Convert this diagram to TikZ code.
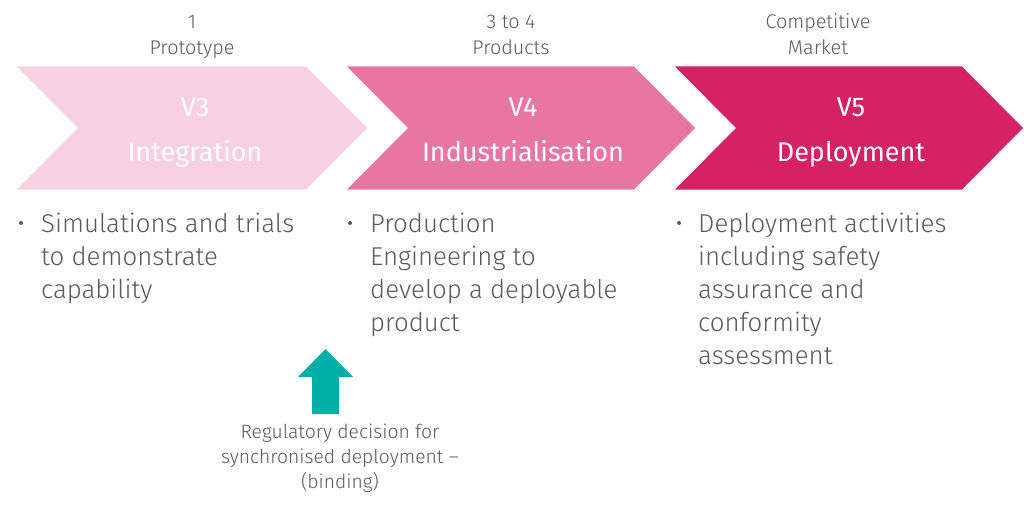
\documentclass[tikz,border=0pt]{standalone}
\usepackage{fontspec}
\IfFontExistsTF{Fira Sans Light}{\setmainfont{Fira Sans Light}}{\setmainfont{Fira Sans}}
\newfontfamily\headfont{Fira Sans}
\usepackage{xcolor}

\definecolor{pinklight}{HTML}{F7D1E0}
\definecolor{pinkmid}{HTML}{E8779F}
\definecolor{pinkdark}{HTML}{D42264}
\definecolor{teal}{HTML}{00B0A8}
\definecolor{textgray}{HTML}{5A5A5A}

\tikzset{
  toplabel/.style={anchor=base, inner sep=0pt, text=textgray, font=\fontsize{19.8}{26}\selectfont},
  header/.style={anchor=base, inner sep=0pt, text=white, font=\headfont\fontsize{27}{44}\selectfont},
  bulletline/.style={anchor=base west, inner sep=0pt, text=textgray, font=\fontsize{25.8}{33}\selectfont},
  bulletdot/.style={circle, fill=textgray, inner sep=0pt, minimum size=4pt},
  notetext/.style={anchor=base, inner sep=0pt, text=textgray, font=\fontsize{19.3}{25}\selectfont}
}

\begin{document}
\begin{tikzpicture}[x=1pt,y=-1pt]
        \useasboundingbox[fill=white] (0,0) rectangle (1024,508);
        % chevrons
        \fill[pinklight] (17,66.5) -- (306,66.5) -- (367,128) -- (306,189.5) -- (17,189.5) -- (78,128) -- cycle;
        \fill[pinkmid] (347,66.5) -- (634,66.5) -- (695,128) -- (634,189.5) -- (347,189.5) -- (408,128) -- cycle;
        \fill[pinkdark] (675,66.5) -- (962,66.5) -- (1023,128) -- (962,189.5) -- (675,189.5) -- (736,128) -- cycle;
        % headers
        \node[header] (v3) at (195,117) {V3};
        \node[header] (v3t) at (195,161) {Integration};
        \node[header] (v4) at (523,117) {V4};
        \node[header] (v4t) at (523,161) {Industrialisation};
        \node[header] (v5) at (851,117) {V5};
        \node[header] (v5t) at (851,161) {Deployment};
        % volumes
        \node[toplabel] (q3a) at (192,29) {1};
        \node[toplabel] (q3b) at (192,55) {Prototype};
        \node[toplabel] (q4a) at (511,29) {3 to 4};
        \node[toplabel] (q4b) at (511,55) {Products};
        \node[toplabel] (q5a) at (818,29) {Competitive};
        \node[toplabel] (q5b) at (818,55) {Market};
        % bullets
        \node[bulletdot] (d3) at (21,223) {};
        \node[bulletdot] (d4) at (350,223) {};
        \node[bulletdot] (d5) at (679,223) {};
        \foreach \t [count=\i] in {Simulations and trials, to demonstrate, capability}
            \node[bulletline] (b3-\i) at (41,199+33*\i) {\t};
        \foreach \t [count=\i] in {Production, Engineering to, develop a deployable, product}
            \node[bulletline] (b4-\i) at (370,199+33*\i) {\t};
        \foreach \t [count=\i] in {Deployment activities, including safety, assurance and, conformity, assessment}
            \node[bulletline] (b5-\i) at (698,199+33*\i) {\t};
        % regulatory decision
        \fill[teal] (298,377) -- (325.5,349) -- (353,377) -- (339,377) -- (339,414) -- (312,414) -- (312,377) -- cycle;
        \foreach \t [count=\i] in {Regulatory decision for, synchronised deployment --, (binding)}
            \node[notetext] (r-\i) at (340,413+25*\i) {\t};
\end{tikzpicture}
\end{document}
